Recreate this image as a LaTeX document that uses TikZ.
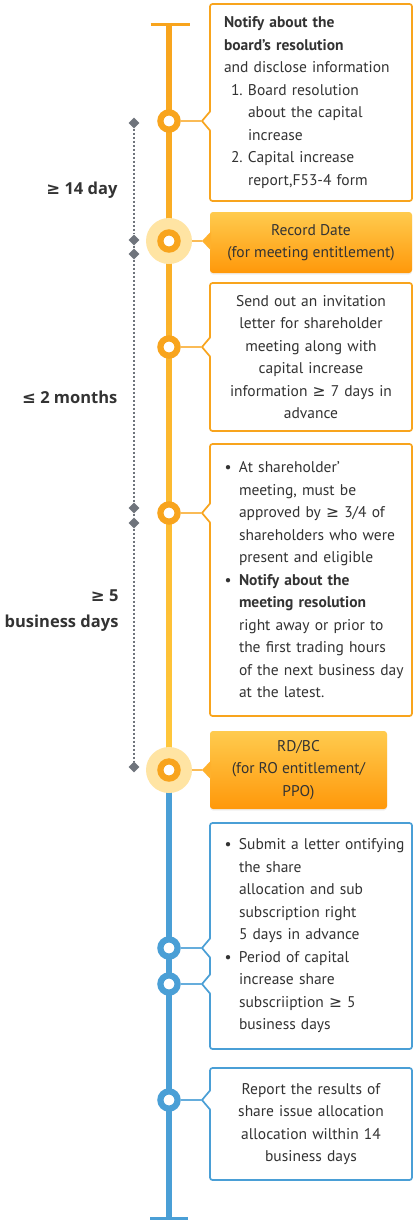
\documentclass[tikz,border=0pt]{standalone}
\usepackage{fontspec}
\setmainfont{PT Sans}
\newfontfamily\symfont{DejaVu Sans}
\newfontfamily\spanfont{Open Sans}
\usetikzlibrary{shapes.geometric,shadows}

\definecolor{tlorange}{HTML}{F8A41D}
\definecolor{tlyellow}{HTML}{FFC83C}
\definecolor{tlhalo}{HTML}{FFE4A3}
\definecolor{tldatetop}{HTML}{FFCB4E}
\definecolor{tldatebot}{HTML}{FF980A}
\definecolor{tldatemid}{HTML}{FFB12C}
\definecolor{tlblue}{HTML}{4A9FD6}
\definecolor{tlgray}{HTML}{6F747C}
\definecolor{tltext}{HTML}{333333}

\newcommand{\gsym}{{\symfont ≥}}
\newcommand{\lsym}{{\symfont ≤}}
\newcommand{\plind}{\hspace*{8pt}}
\newcommand{\numitem}[1]{\hspace*{15pt}\makebox[17pt][l]{#1}}
\newcommand{\numind}{\hspace*{32pt}}
\newcommand{\bulitem}{\hspace*{8.5pt}\makebox[14.5pt][l]{•}}
\newcommand{\bulind}{\hspace*{23pt}}

\tikzset{
  ring/.style={circle, draw=#1, line width=6.2pt, fill=white, minimum size=17.2pt, inner sep=0pt},
  halo/.style={circle, fill=tlhalo, minimum size=46pt, inner sep=0pt},
  notebox/.style={draw=#1, line width=1.7pt, rounded corners=2.5pt, fill=white,
    minimum width=202pt, text width=190pt, inner xsep=6pt, text=tltext,
    font=\fontsize{15.5}{22.5}\selectfont},
  datebox/.style={rounded corners=3pt, top color=tldatetop, bottom color=tldatebot,
    minimum width=#1, text=tltext, align=center, font=\fontsize{15.5}{22.5}\selectfont,
    drop shadow={opacity=0.12, shadow xshift=0pt, shadow yshift=-1.5pt}},
  tick/.style={diamond, fill=tlgray, minimum size=11pt, inner sep=0pt},
  span/.style={anchor=east, align=right, text=tltext, font=\spanfont\fontsize{16.5}{26}\selectfont\bfseries},
  link/.style={draw=#1, line width=1.4pt},
}

\begin{document}
\begin{tikzpicture}[x=1pt,y=-1pt]
\useasboundingbox[fill=white] (0,0) rectangle (420,1221);

% Axe du temps
\fill[top color=tlorange, bottom color=tlyellow] (166.2,24) rectangle (171.8,770);
\draw[tlblue, line width=5.6pt] (169,770) -- (169,1218);
\draw[tlorange, line width=3pt] (150.5,24) -- (189.5,24);
\draw[tlblue, line width=3pt] (150,1218) -- (188,1218);

% Durees
\foreach \n/\y in {1/123,2/240,3/254,4/508,5/523,6/767}
    \node[tick] (d\n) at (134,\y) {};
\foreach \a/\b in {1/2,2/3,3/4,4/5,5/6}
    \draw[tlgray, line width=1.3pt, dash pattern=on 2pt off 2pt] (d\a) -- (d\b);
\node[span] (l1) at (121,190) {\gsym\ 14 day};
\node[span] (l2) at (121,397) {\lsym\ 2 months};
\node[span] (l3) at (122,611) {\gsym\ 5\\business days};

% Etapes
\node[notebox=tlorange, align=left, minimum height=197pt] (b1) at (311,102.5) {%
\plind\textbf{Notify about the}\\
\plind\textbf{board’s resolution}\\
\plind and disclose information\\
\numitem{1.}Board resolution\\
\numind about the capital\\
\numind increase\\
\numitem{2.}Capital increase\\
\numind report,F53-4 form};
\node[datebox=202pt, minimum height=61pt] (b2) at (311,242.5)
    {Record Date\\(for meeting entitlement)};
\node[notebox=tlorange, align=center, minimum height=148pt] (b3) at (311,357)
    {Send out an invitation\\letter for shareholder\\meeting along with\\capital increase\\information \gsym\ 7 days in\\advance};
\node[notebox=tlorange, align=left, minimum height=272pt] (b4) at (311,580) {%
\bulitem At shareholder’\\
\bulind meeting, must be\\
\bulind approved by \gsym\ 3/4 of\\
\bulind \mbox{shareholders who were}\\
\bulind present and eligible\\
\bulitem\textbf{Notify about the}\\
\bulind\textbf{meeting resolution}\\
\bulind \mbox{right away or prior to}\\
\bulind \mbox{the first trading hours}\\
\bulind\mbox{of the next business day}\\
\bulind at the latest.};
\node[datebox=177pt, minimum height=78pt] (b5) at (298.5,770)
    {RD/BC\\(for RO entitlement/\\PPO)};
\node[notebox=tlblue, align=left, minimum height=226pt] (b6) at (311,936) {%
\bulitem\mbox{Submit a letter ontifying}\\
\bulind the share\\
\bulind allocation and sub\\
\bulind subscription right\\
\bulind 5 days in advance\\
\bulitem Period of capital\\
\bulind increase share\\
\bulind subscriiption \gsym\ 5\\
\bulind business days};
\node[notebox=tlblue, align=center, minimum height=112pt] (b7) at (311,1124)
    {Report the results of\\share issue allocation\\allocation wilthin 14\\business days};

% Pointes des bulles
\foreach \t/\y/\c in {t1/121/tlorange,t3/347/tlorange,t4/513/tlorange,t6/948/tlblue,t7/984/tlblue,t8/1100/tlblue} {
    \coordinate (\t) at (202,\y);
    \fill[white] (211,\y-9.5) -- (\t) -- (211,\y+9.5) -- cycle;
    \draw[\c, line width=1.7pt, line join=round] (210,\y-9.5) -- (\t) -- (210,\y+9.5);
}
\foreach \t/\y in {t2/241,t5/770} {
    \coordinate (\t) at (202,\y);
    \fill[tldatemid] (211,\y-9.5) -- (\t) -- (211,\y+9.5) -- cycle;
}

% Jalons
\node[halo] (h2) at (169,241) {};
\node[halo] (h5) at (169,770) {};
\foreach \n/\y in {1/121,2/241,3/347,4/513,5/770}
    \node[ring=tlorange] (m\n) at (169,\y) {};
\foreach \n/\y in {6/948,7/984,8/1100}
    \node[ring=tlblue] (m\n) at (169,\y) {};

% Liaisons
\draw[link=tlorange!75] (m1.east) -- (t1);
\draw[link=tlorange!75] (h2.east) -- (t2);
\draw[link=tlorange!75] (m3.east) -- (t3);
\draw[link=tlorange!75] (m4.east) -- (t4);
\draw[link=tlorange!75] (h5.east) -- (t5);
\draw[link=tlblue!85] (m6.east) -- (t6);
\draw[link=tlblue!85] (m7.east) -- (t7);
\draw[link=tlblue!85] (m8.east) -- (t8);

\end{tikzpicture}
\end{document}
